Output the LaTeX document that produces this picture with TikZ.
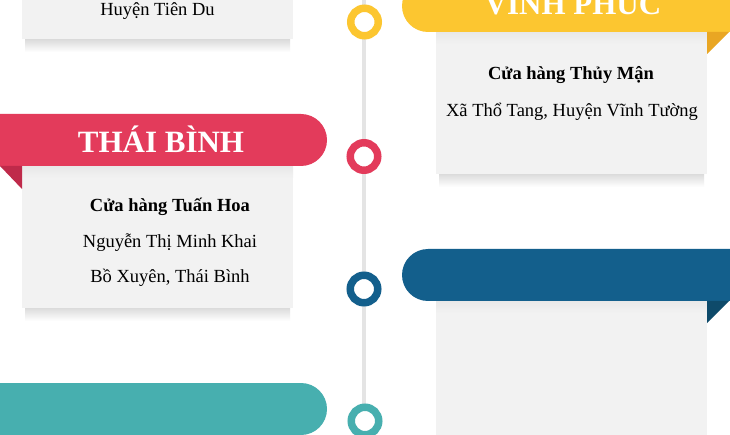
\documentclass[tikz,border=0pt]{standalone}
\usepackage{fontspec}
\setmainfont{Liberation Serif}
\definecolor{cyel}{HTML}{FCC630}
\definecolor{cyeld}{HTML}{E9A623}
\definecolor{cred}{HTML}{E33B5B}
\definecolor{credd}{HTML}{BF2A4A}
\definecolor{cblu}{HTML}{135F8C}
\definecolor{cblud}{HTML}{0E4A6A}
\definecolor{cteal}{HTML}{47AFAF}
\definecolor{cbox}{HTML}{F2F2F2}
\definecolor{cline}{HTML}{E4E4E4}
\tikzset{
  banner/.style={rounded corners=26pt},
  card/.style={fill=cbox},
  cardshadow/.style={top color=black!14, bottom color=white},
  bannershadow/.style={top color=black!9, bottom color=cbox},
  ring/.style={draw=#1, fill=white, line width=7.5pt},
  title/.style={text=white, anchor=base, inner sep=0pt, font=\bfseries\fontsize{31}{31}\selectfont},
  head/.style={anchor=base, inner sep=0pt, font=\bfseries\fontsize{18.5}{21}\selectfont},
  body/.style={anchor=base, inner sep=0pt, font=\fontsize{18.5}{21}\selectfont},
}
\begin{document}
\begin{tikzpicture}[x=1pt,y=-1pt]
\useasboundingbox (0,0) rectangle (730,435);
\clip (0,0) rectangle (730,435);
\fill[white] (0,0) rectangle (730,435);
% timeline
\draw[cline, line width=4pt] (364,0) -- (364,435);

% top-left card (Tien Du)
\shade[cardshadow] (25,39.5) rectangle (290,52);
\fill[card] (22,-5) rectangle (293,39.5);
\node[body] (tdu) at (157.5,16) {Huyện Tiên Du};

% Vinh Phuc
\shade[cardshadow] (439,174) rectangle (704,187);
\fill[card] (436,32) rectangle (707,174);
\shade[bannershadow] (436,32) rectangle (707,44);
\fill[cyel, banner] (402,-20) rectangle (790,32);
\fill[cyeld] (707,32) -- (729,32) -- (707,54) -- cycle;
\node[title] (tvp) at (573,15) {VĨNH PHÚC};
\node[head] (hvp) at (571,80) {Cửa hàng Thủy Mận};
\node[body] (bvp) at (572,117) {Xã Thổ Tang, Huyện Vĩnh Tường};

% Thai Binh
\shade[cardshadow] (25,308) rectangle (290,321);
\fill[card] (22,166) rectangle (293,308);
\shade[bannershadow] (22,166) rectangle (293,178);
\fill[cred, banner] (-60,114) rectangle (327,166);
\fill[credd] (0,166) -- (22,166) -- (22,189) -- cycle;
\node[title] (ttb) at (161,153) {THÁI BÌNH};
\node[head] (htb) at (170,211.5) {Cửa hàng Tuấn Hoa};
\node[body] (btb1) at (170,248) {Nguyễn Thị Minh Khai};
\node[body] (btb2) at (170,283) {Bồ Xuyên, Thái Bình};

% blue
\fill[card] (436,301) rectangle (707,445);
\shade[bannershadow] (436,301) rectangle (707,313);
\fill[cblu, banner] (402,249) rectangle (790,301);
\fill[cblud] (707,301) -- (729,301) -- (707,323) -- cycle;

% teal
\fill[cteal, banner] (-60,383) rectangle (327,435);

% rings
\draw[ring=cyel] (364.5,22) circle (13.75);
\draw[ring=cred] (364,156.5) circle (13.75);
\draw[ring=cblu] (364,289) circle (13.75);
\draw[ring=cteal] (365,421) circle (13.75);
\end{tikzpicture}
\end{document}
